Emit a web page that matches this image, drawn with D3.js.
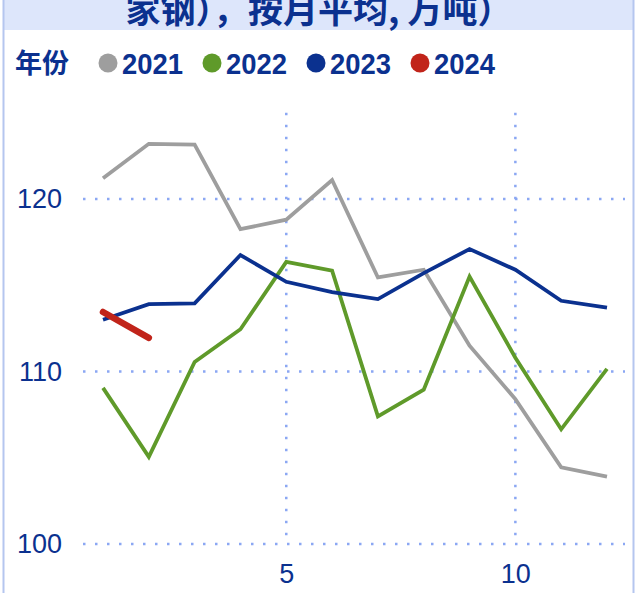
<!DOCTYPE html>
<html>
<head>
<meta charset="utf-8">
<script src="https://cdn.jsdelivr.net/npm/d3@7"></script>
<style>
  html, body { margin: 0; padding: 0; background: #fff; }
  svg { display: block; }
</style>
</head>
<body>
<svg></svg>
<script>
// data
var months = [1, 2, 3, 4, 5, 6, 7, 8, 9, 10, 11, 12];
var v2021 = [121.2, 123.2, 123.15, 118.25, 118.8, 121.1, 115.45, 115.9, 111.5, 108.4, 104.45, 103.9];
var v2022 = [109.05, 105.05, 110.55, 112.45, 116.35, 115.85, 107.4, 108.95, 115.5, 110.8, 106.65, 110.15];
var v2023 = [113.0, 113.9, 113.95, 116.75, 115.2, 114.6, 114.2, 115.7, 117.1, 115.9, 114.1, 113.7];
var v2024 = [113.45, 111.95];
var yTicks = [100, 110, 120];
var xTicks = [5, 10];
var years = ["2021", "2022", "2023", "2024"];
var colors = ["#9e9e9e", "#5f9a2a", "#0b318f", "#c1241a"];

var W = 638, H = 593;
var ink = "#0b318f";
var svg = d3.select("svg").attr("width", W).attr("height", H);

// frame + title band
svg.append("rect")
    .attr("x", 3).attr("y", 0).attr("width", 631).attr("height", 30)
    .attr("fill", "#dde6fb");
svg.append("line")
    .attr("x1", 3.5).attr("x2", 3.5).attr("y1", 0).attr("y2", H)
    .attr("stroke", "#b5c6ef").attr("stroke-width", 2);
svg.append("line")
    .attr("x1", 633.5).attr("x2", 633.5).attr("y1", 0).attr("y2", H)
    .attr("stroke", "#b5c6ef").attr("stroke-width", 2);

// last line of a longer title, its top clipped by the frame
svg.append("text")
    .attr("x", 319).attr("y", 23)
    .attr("text-anchor", "middle")
    .attr("font-family", "'Noto Sans CJK SC', sans-serif")
    .attr("font-weight", 700)
    .attr("font-size", 35)
    .attr("fill", ink)
    .text("家钢），按月平均, 万吨）");

// legend
var legend = svg.append("g").attr("transform", "translate(0,63)");
legend.append("text")
    .attr("x", 15).attr("y", 10)
    .attr("font-family", "'Noto Sans CJK SC', sans-serif")
    .attr("font-weight", 700)
    .attr("font-size", 27)
    .attr("fill", ink)
    .text("年份");
var item = legend.selectAll("g.item").data(years).enter().append("g")
    .attr("class", "item")
    .attr("transform", function(d, i) { return "translate(" + (108 + i * 104) + ",0)"; });
item.append("circle").attr("r", 9.5).attr("fill", function(d, i) { return colors[i]; });
item.append("text")
    .attr("x", 14).attr("y", 11)
    .attr("font-family", "'Liberation Sans', Arial, sans-serif")
    .attr("font-weight", 700)
    .attr("font-size", 29)
    .attr("textLength", 61)
    .attr("lengthAdjust", "spacingAndGlyphs")
    .attr("fill", ink)
    .text(function(d) { return d; });

// scales
var x = d3.scaleLinear().domain([1, 12]).range([103, 607]);
var y = d3.scaleLinear().domain([100, 125]).range([544, 112.75]);
var gridLeft = 83, gridRight = 625;

// grid
var grid = svg.append("g")
    .attr("stroke", "#8ba7f3").attr("stroke-width", 2.5).attr("stroke-dasharray", "2.5,9.5");
grid.selectAll("line.h").data(yTicks).enter().append("line")
    .attr("x1", gridLeft).attr("x2", gridRight)
    .attr("y1", function(d) { return y(d); }).attr("y2", function(d) { return y(d); });
grid.selectAll("line.v").data(xTicks).enter().append("line")
    .attr("x1", function(d) { return x(d); }).attr("x2", function(d) { return x(d); })
    .attr("y1", y(125)).attr("y2", y(100) - 8);

// axes as text only
var yAxis = d3.axisLeft(y).tickValues(yTicks).tickSize(0).tickPadding(0);
var gy = svg.append("g").attr("transform", "translate(62,0)").call(yAxis);
var xAxis = d3.axisBottom(x).tickValues(xTicks).tickSize(0).tickPadding(0);
var gx = svg.append("g").attr("transform", "translate(0,562)").call(xAxis);
[gy, gx].forEach(function(g) {
  g.select(".domain").remove();
  g.selectAll("text")
      .attr("fill", ink)
      .attr("font-family", "'Liberation Sans', Arial, sans-serif")
      .attr("font-size", 27);
});
gx.selectAll("text").attr("dy", "0.78em");

// lines
var line = d3.line()
    .x(function(d, i) { return x(months[i]); })
    .y(function(d) { return y(d); });
var series = [v2021, v2022, v2023, v2024];
svg.append("g").selectAll("path").data(series).enter().append("path")
    .attr("d", line)
    .attr("fill", "none")
    .attr("stroke", function(d, i) { return colors[i]; })
    .attr("stroke-width", function(d, i) { return i === 3 ? 6.5 : 3.8; })
    .attr("stroke-linecap", function(d, i) { return i === 3 ? "round" : "butt"; })
    .attr("stroke-linejoin", "miter");
</script>
</body>
</html>
